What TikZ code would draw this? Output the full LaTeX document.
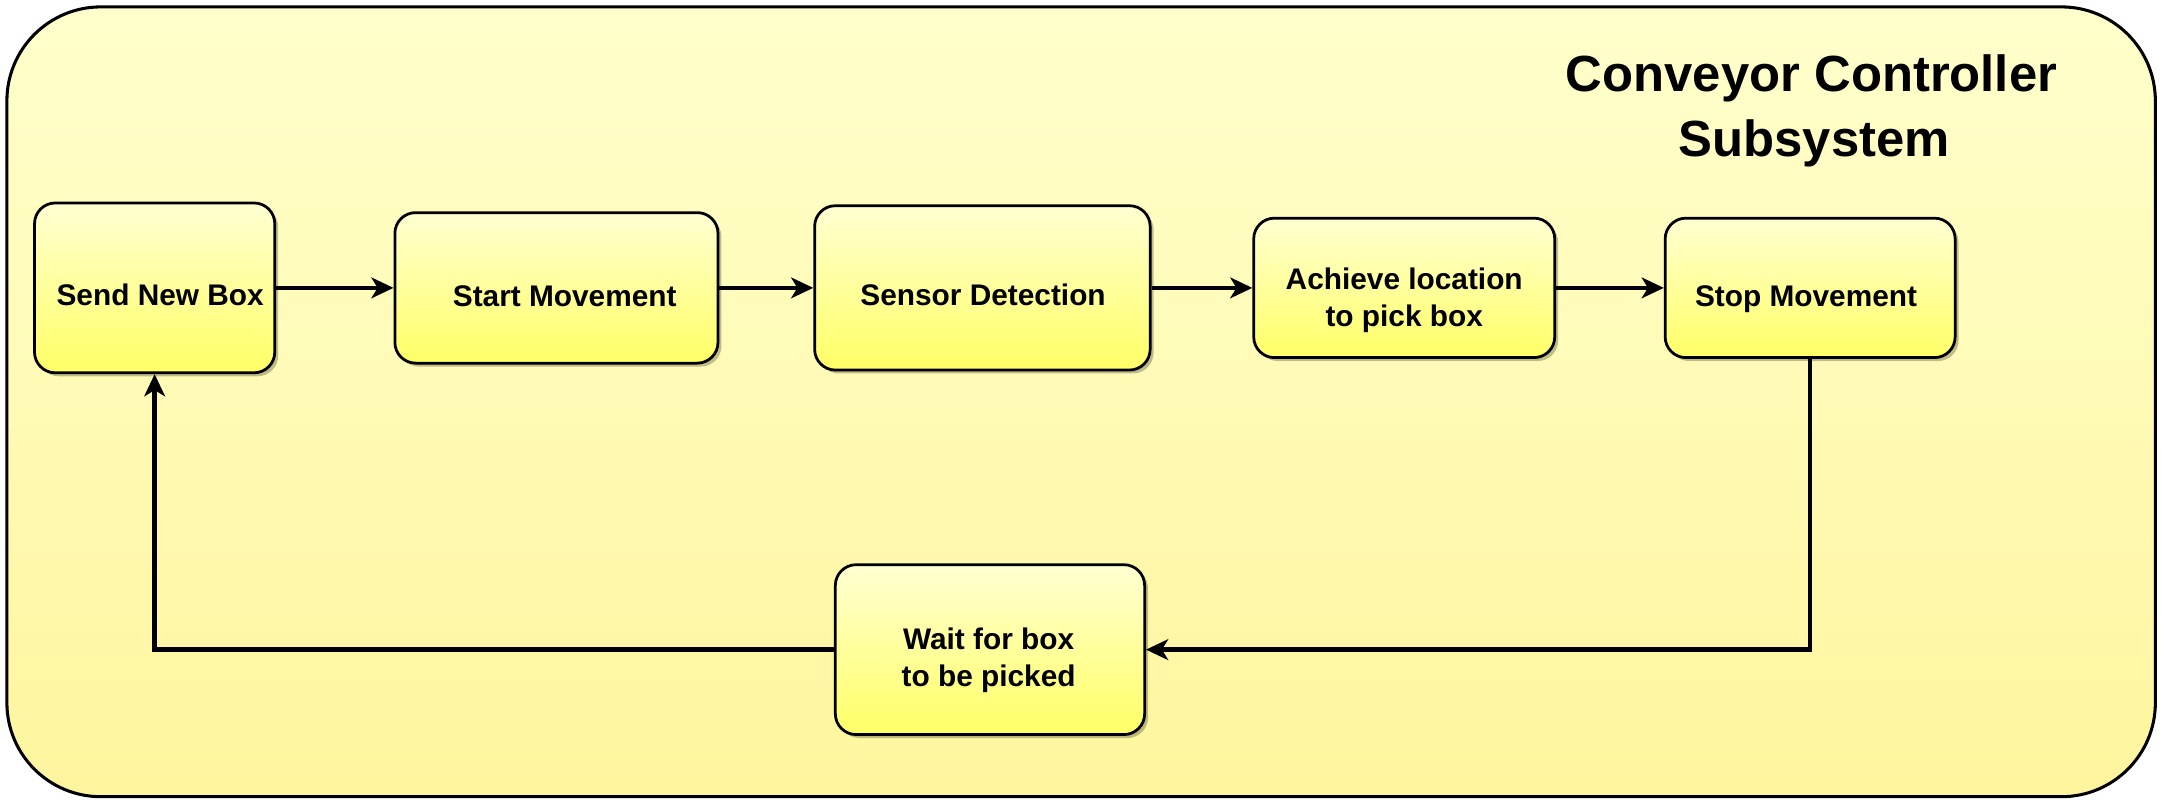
\documentclass[tikz,border=0pt]{standalone}
\usepackage{fontspec}
\setmainfont{Liberation Sans}
\usetikzlibrary{arrows.meta,shadows}
\definecolor{frametop}{HTML}{FFFFCC}
\definecolor{framebot}{HTML}{FFF59E}
\definecolor{boxtop}{HTML}{FFFFD2}
\definecolor{boxbot}{HTML}{FFFF66}
\tikzset{
  procbox/.style={draw=black, line width=2pt, rounded corners=15pt,
    top color=boxtop, bottom color=boxbot, inner sep=0pt,
    drop shadow={shadow xshift=2.5pt, shadow yshift=-2.5pt, opacity=0.25, fill=black}},
  boxtext/.style={align=center, inner sep=0pt, font=\bfseries\fontsize{21.6}{27}\selectfont},
  flow/.style={line width=2.8pt, -{Stealth[length=16pt, width=15pt, inset=4.5pt]}},
  loopflow/.style={flow, line width=3.2pt},
}
\begin{document}
\begin{tikzpicture}[x=1pt, y=-1pt]
\useasboundingbox (0,0) rectangle (1568,583);
\draw[line width=2.2pt, rounded corners=68pt, top color=frametop, bottom color=framebot]
  (5,5) rectangle (1561,577);
\node[align=center, font=\bfseries\fontsize{36.8}{47}\selectfont] (title) at (1312,80)
  {Conveyor Controller\\\hspace*{4pt}Subsystem};
\node[procbox, minimum width=174pt, minimum height=123pt] (send) at (112,208.5) {};
\node[procbox, minimum width=234pt, minimum height=109pt] (start) at (403,208.5) {};
\node[procbox, minimum width=243pt, minimum height=119pt] (sensor) at (711.5,208.5) {};
\node[procbox, minimum width=218pt, minimum height=101pt] (achieve) at (1017,208.5) {};
\node[procbox, minimum width=210pt, minimum height=101pt] (stop) at (1311,208.5) {};
\node[procbox, minimum width=224pt, minimum height=123pt] (wait) at (717,470.5) {};
\node[boxtext] (sendtext) at (116,213.5) {Send New Box};
\node[boxtext] (starttext) at (409,214.5) {Start Movement};
\node[boxtext] (sensortext) at (712,213.5) {Sensor Detection};
\node[boxtext] (achievetext) at (1017,217.5) {Achieve location\\to pick box};
\node[boxtext] (stoptext) at (1308,216.5) {Stop Movement};
\node[boxtext] (waittext) at (716,478) {Wait for box\\to be picked};
\draw[flow] (send.east) -- (start.west);
\draw[flow] (start.east) -- (sensor.west);
\draw[flow] (sensor.east) -- (achieve.west);
\draw[flow] (achieve.east) -- (stop.west);
\draw[loopflow] (stop.south) |- (wait.east);
\draw[loopflow] (wait.west) -| (send.south);
\end{tikzpicture}
\end{document}
